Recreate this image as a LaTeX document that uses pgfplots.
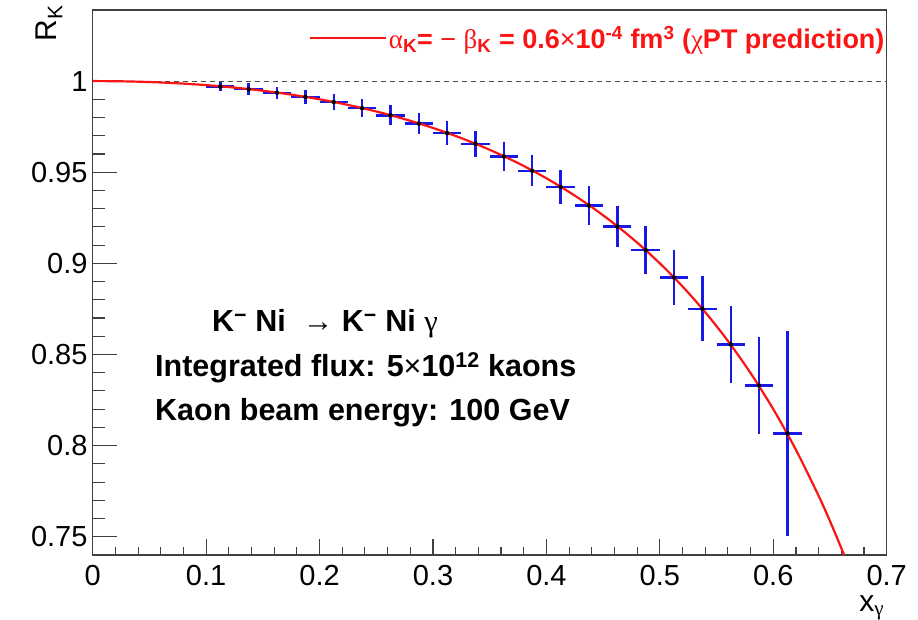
\documentclass[border=0pt]{standalone}
\usepackage{fontspec}
\setmainfont{Liberation Sans}
\newfontfamily\grk{Liberation Serif}
\usepackage{pgfplots}
\pgfplotsset{compat=1.18}
\definecolor{rootred}{RGB}{250,20,20}
\definecolor{rootblue}{RGB}{25,25,230}

\begin{document}
\begin{tikzpicture}
\begin{axis}[
    scale only axis,
    width=794pt, height=545pt,
    xmin=0, xmax=0.7,
    ymin=0.74, ymax=1.039,
    xtick={0,0.1,0.2,0.3,0.4,0.5,0.6,0.7},
    ytick={0.75,0.8,0.85,0.9,0.95,1},
    minor x tick num=4,
    minor y tick num=4,
    tick align=inside,
    xtick pos=left, ytick pos=left,
    major tick length=16pt, minor tick length=8pt,
    y tick style={/pgfplots/major tick length=24pt, /pgfplots/minor tick length=12pt},
    axis line style={line width=1.3pt, black!75},
    tick style={line width=1.1pt, black!75},
    /pgf/number format/assume math mode=true,
    tick label style={font=\fontsize{29}{30}\selectfont},
    yticklabel style={inner sep=0pt, xshift=-5pt},
    xticklabel style={inner sep=0pt, yshift=-10pt},
    ylabel={R\textsubscript{K}},
    ylabel style={at={(axis description cs:-0.038,1.009)}, anchor=south east,
        inner sep=0pt, font=\fontsize{30}{32}\selectfont},
    xlabel={x\textsubscript{\grk γ}},
    xlabel style={at={(axis description cs:0.997,-0.075)}, anchor=north east,
        inner sep=0pt, font=\fontsize{30}{32}\selectfont},
    legend style={draw=none, fill=none, at={(axis description cs:1,0.949)},
        anchor=east, inner sep=0pt, text=rootred,
        font=\fontsize{27}{28}\selectfont\bfseries},
    legend image code/.code={
        \path (0pt,0pt) -- (76pt,0pt);
        \draw[#1] (0pt,0pt) -- (33pt,0pt);},
]
% reference line at R = 1
\addplot[black!70, line width=1pt, dash pattern=on 5pt off 4pt, forget plot]
    coordinates {(0,1) (0.7,1)};

% pseudo-data: bin centre, value, half bin width, stat. error
\addplot[only marks, mark=none, forget plot,
    error bars/.cd, x dir=both, x explicit, y dir=both, y explicit,
    error mark=none, error bar style={rootblue, line width=2.4pt}]
coordinates {
    (0.1125,0.9970) +- (0.0125,0.0026)
    (0.1375,0.9955) +- (0.0125,0.0032)
    (0.1625,0.9936) +- (0.0125,0.0034)
    (0.1875,0.9913) +- (0.0125,0.0039)
    (0.2125,0.9885) +- (0.0125,0.0045)
    (0.2375,0.9851) +- (0.0125,0.0050)
    (0.2625,0.9812) +- (0.0125,0.0055)
    (0.2875,0.9767) +- (0.0125,0.0059)
    (0.3125,0.9715) +- (0.0125,0.0066)
    (0.3375,0.9656) +- (0.0125,0.0072)
    (0.3625,0.9586) +- (0.0125,0.0078)
    (0.3875,0.9508) +- (0.0125,0.0084)
    (0.4125,0.9419) +- (0.0125,0.0092)
    (0.4375,0.9317) +- (0.0125,0.0106)
    (0.4625,0.9202) +- (0.0125,0.0114)
    (0.4875,0.9073) +- (0.0125,0.0131)
    (0.5125,0.8922) +- (0.0125,0.0152)
    (0.5375,0.8751) +- (0.0125,0.0178)
    (0.5625,0.8555) +- (0.0125,0.0212)
    (0.5875,0.8330) +- (0.0125,0.0267)
    (0.6125,0.8067) +- (0.0125,0.0563)
};

% chiPT prediction
\addplot[rootred, line width=2.2pt, smooth] coordinates {
    (0,1) (0.02,0.99992) (0.04,0.99967) (0.06,0.99923) (0.08,0.99861)
    (0.10,0.99778) (0.12,0.99673) (0.14,0.99544) (0.16,0.99390)
    (0.18,0.99210) (0.20,0.99000) (0.22,0.98759) (0.24,0.98484)
    (0.26,0.98173) (0.28,0.97822) (0.30,0.97429) (0.32,0.96988)
    (0.34,0.96497) (0.36,0.95950) (0.38,0.95342) (0.40,0.94667)
    (0.42,0.93917) (0.44,0.93086) (0.46,0.92163) (0.48,0.91138)
    (0.50,0.90000) (0.52,0.88733) (0.54,0.87322) (0.56,0.85745)
    (0.58,0.83981) (0.60,0.82000) (0.62,0.79768) (0.64,0.77244)
    (0.65,0.75857) (0.66,0.74376) (0.6624,0.74006)
};
\addlegendentry{{\mdseries\grk α}\textsubscript{K}= {\mdseries −} {\mdseries\grk β}\textsubscript{K} = 0.6{\mdseries ×}10\textsuperscript{-4} fm\textsuperscript{3} ({\mdseries\grk χ}PT prediction)}

\node[anchor=base west, inner sep=0pt, font=\fontsize{30.5}{32}\selectfont\bfseries]
    at (axis cs:0.105,0.8624) {K\textsuperscript{−} Ni \ → K\textsuperscript{−} Ni {\mdseries\grk γ}};
\node[anchor=base west, inner sep=0pt, font=\fontsize{30.5}{32}\selectfont\bfseries]
    at (axis cs:0.0549,0.8377) {Integrated flux: 5{\mdseries ×}10\textsuperscript{12} kaons};
\node[anchor=base west, inner sep=0pt, font=\fontsize{30.5}{32}\selectfont\bfseries]
    at (axis cs:0.0549,0.8136) {Kaon beam energy: 100 GeV};
\end{axis}
\pgfresetboundingbox
\path[use as bounding box] (current axis.south west) ++(-92.7pt,-65pt) rectangle ++(918pt,620pt);
\end{tikzpicture}
\end{document}
